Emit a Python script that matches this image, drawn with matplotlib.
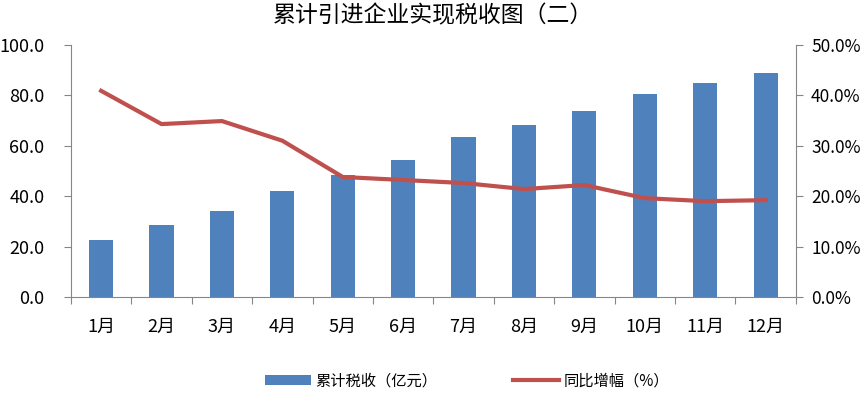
import numpy as np
import matplotlib.pyplot as plt
from matplotlib.ticker import FuncFormatter, FixedLocator

plt.rcParams['font.family'] = ['Noto Sans CJK SC', 'DejaVu Sans']

# 数据
months = ['1月', '2月', '3月', '4月', '5月', '6月', '7月', '8月', '9月', '10月', '11月', '12月']
tax = [22.6, 28.6, 34.1, 42.1, 48.4, 54.4, 63.5, 68.3, 73.8, 80.6, 84.9, 88.9]  # 累计税收（亿元）
growth = [40.9, 34.3, 34.9, 31.0, 23.8, 23.2, 22.6, 21.4, 22.2, 19.6, 19.0, 19.2]  # 同比增幅（%）

bar_color = '#4F81BD'
line_color = '#C0504D'
axis_color = '#868686'

fig = plt.figure(figsize=(8.65, 3.98), dpi=100)
ax = fig.add_axes([0.082, 0.254, 0.838, 0.633])
x = np.arange(len(months))

b = ax.bar(x, tax, width=0.4, color=bar_color, zorder=2)
ax.set_xlim(-0.5, len(months) - 0.5)
ax.set_ylim(0, 100)
ax.set_yticks(np.arange(0, 101, 20))
ax.yaxis.set_major_formatter(FuncFormatter(lambda v, p: f'{v:.1f}'))

ax2 = ax.twinx()
l, = ax2.plot(x, growth, color=line_color, lw=3, zorder=3)
ax2.set_ylim(0, 50)
ax2.set_yticks(np.arange(0, 51, 10))
ax2.yaxis.set_major_formatter(FuncFormatter(lambda v, p: f'{v:.1f}%'))

# 分类轴：刻度在分类之间
ax.xaxis.set_major_locator(FixedLocator(np.arange(-0.5, len(months), 1)))
ax.xaxis.set_major_formatter(FuncFormatter(lambda v, p: ''))
ax.set_xticks(x, minor=True)
ax.set_xticklabels(months, minor=True, fontsize=13)
ax.tick_params(axis='x', which='minor', length=0, pad=15)
ax.tick_params(axis='x', which='major', length=5, color=axis_color, direction='out')

for a in (ax, ax2):
    a.spines['top'].set_visible(False)
    for s in ('left', 'right', 'bottom'):
        a.spines[s].set_color(axis_color)
ax.spines['right'].set_visible(False)
ax2.spines['left'].set_visible(False)
ax2.spines['bottom'].set_visible(False)

ax.tick_params(axis='y', length=5, color=axis_color, labelsize=13, pad=14)
ax2.tick_params(axis='y', length=5, color=axis_color, labelsize=12.5, pad=6)

fig.suptitle('累计引进企业实现税收图（二）', fontsize=16.5, y=0.99)

fig.legend([b, l], ['累计税收（亿元）', '同比增幅（%）'], loc='center', bbox_to_anchor=(0.54, 0.043),
           ncol=2, frameon=False, fontsize=11, handlelength=3, columnspacing=5, handletextpad=0.3)

fig.savefig('out.png', dpi=100)
